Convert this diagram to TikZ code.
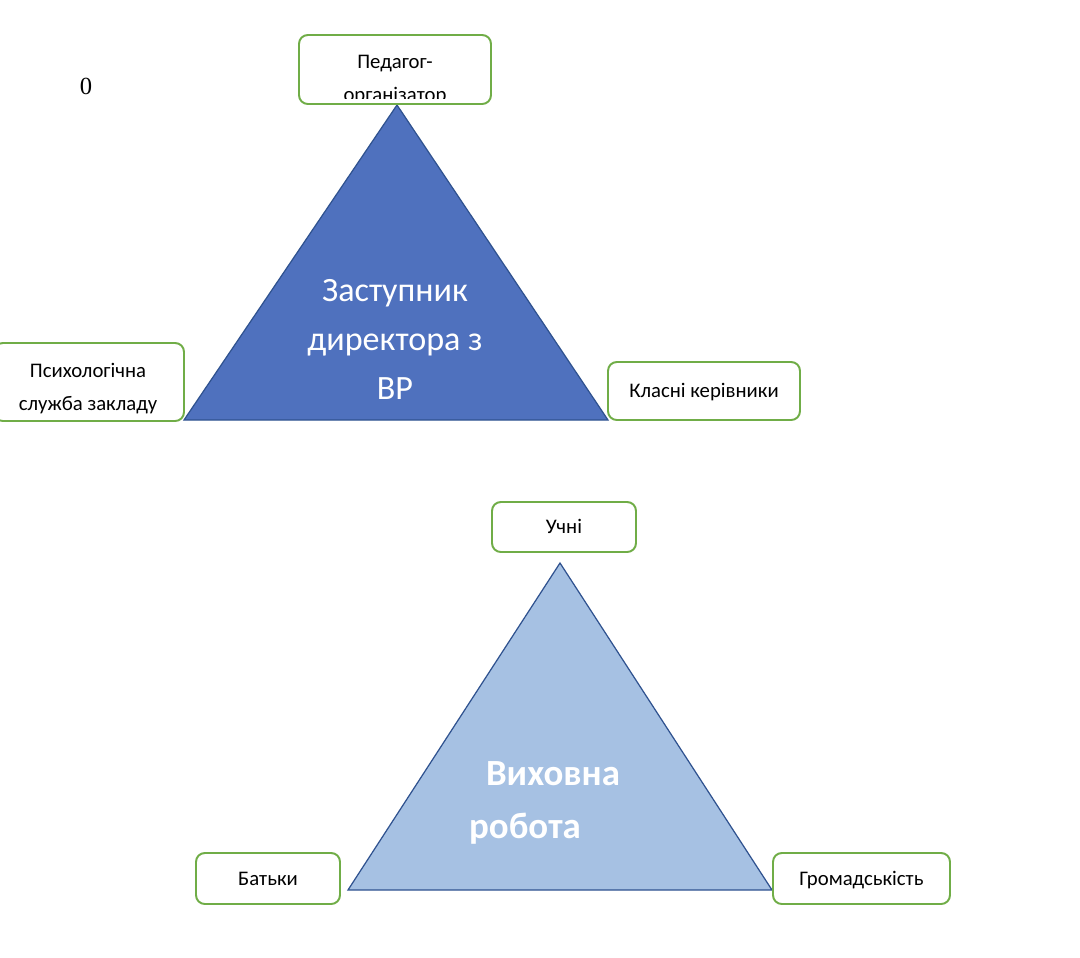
\documentclass[tikz,border=0pt]{standalone}
\usepackage{fontspec}
\setmainfont{Carlito}
\newfontfamily\serifnum{Liberation Serif}
\usepackage{xcolor}
\usepackage{tikz}
\usetikzlibrary{positioning}
\definecolor{boxgreen}{HTML}{70AD47}
\definecolor{triedge}{HTML}{2F528F}
\definecolor{tridark}{HTML}{4F71BE}
\definecolor{trilight}{HTML}{A6C1E3}
\tikzset{
  role/.style={draw=boxgreen, line width=1.1pt, rounded corners=5pt, fill=white},
  roletxt/.style={font=\fontsize{11.8}{18.8}\selectfont, align=center, inner sep=0pt},
  oneline/.style={text height=1.85ex, text depth=0.2ex},
  tri/.style={draw=triedge, line width=0.7pt},
  bigtxt/.style={text=white, font=\fontsize{19.4}{27.9}\selectfont, align=center, inner sep=0pt},
  boldtxt/.style={text=white, font=\fontsize{21}{27.9}\selectfont\bfseries, inner sep=0pt}
}

\begin{document}
\begin{tikzpicture}[x=0.02cm, y=-0.02cm]
  \useasboundingbox (0,0) rectangle (1080,958);
  \clip (0,0) rectangle (1080,958);

  % page number
  \node[font=\serifnum\fontsize{14}{16}\selectfont] (pagenum) at (86,86) {0};

  % upper triangle
  \draw[tri, fill=tridark] (397,105) coordinate (topA) -- (608,420) coordinate (topR) -- (184,420) coordinate (topL) -- cycle;
  \node[bigtxt] (deputy) at (395,339) {Заступник\\директора з\\ВР};

  % lower triangle
  \draw[tri, fill=trilight] (560,563) coordinate (lowA) -- (772,890) coordinate (lowR) -- (348,890) coordinate (lowL) -- cycle;
  \node[boldtxt] (work1) at (553,774) {Виховна};
  \node[boldtxt] (work2) at (525,829) {робота};

  % boxes round the upper triangle
  \node[role, minimum width=3.84cm, minimum height=1.38cm] (organizer) at (395,69.5) {};
  \begin{scope}
    \clip (301,37) rectangle (489,98);
    \node[roletxt] (organizertxt) at (395,80) {Педагог-\\організатор};
  \end{scope}

  \node[role, minimum width=3.8cm, minimum height=1.56cm] (psych) at (89,382) {};
  \begin{scope}
    \clip (-4,345) rectangle (182,413);
    \node[roletxt] (psychtxt) at (88,389) {Психологічна\\служба закладу};
  \end{scope}

  \node[role, roletxt, oneline, minimum width=3.84cm, minimum height=1.16cm] (teachers) at (704,391) {Класні керівники};

  % boxes round the lower triangle
  \node[role, roletxt, oneline, minimum width=2.88cm, minimum height=1.0cm] (pupils) at (564,527) {Учні};
  \node[role, roletxt, oneline, minimum width=2.88cm, minimum height=1.02cm] (parents) at (268,878.5) {Батьки};
  \node[role, roletxt, oneline, minimum width=3.54cm, minimum height=1.02cm] (public) at (861.5,878.5) {Громадськість};
\end{tikzpicture}
\end{document}
